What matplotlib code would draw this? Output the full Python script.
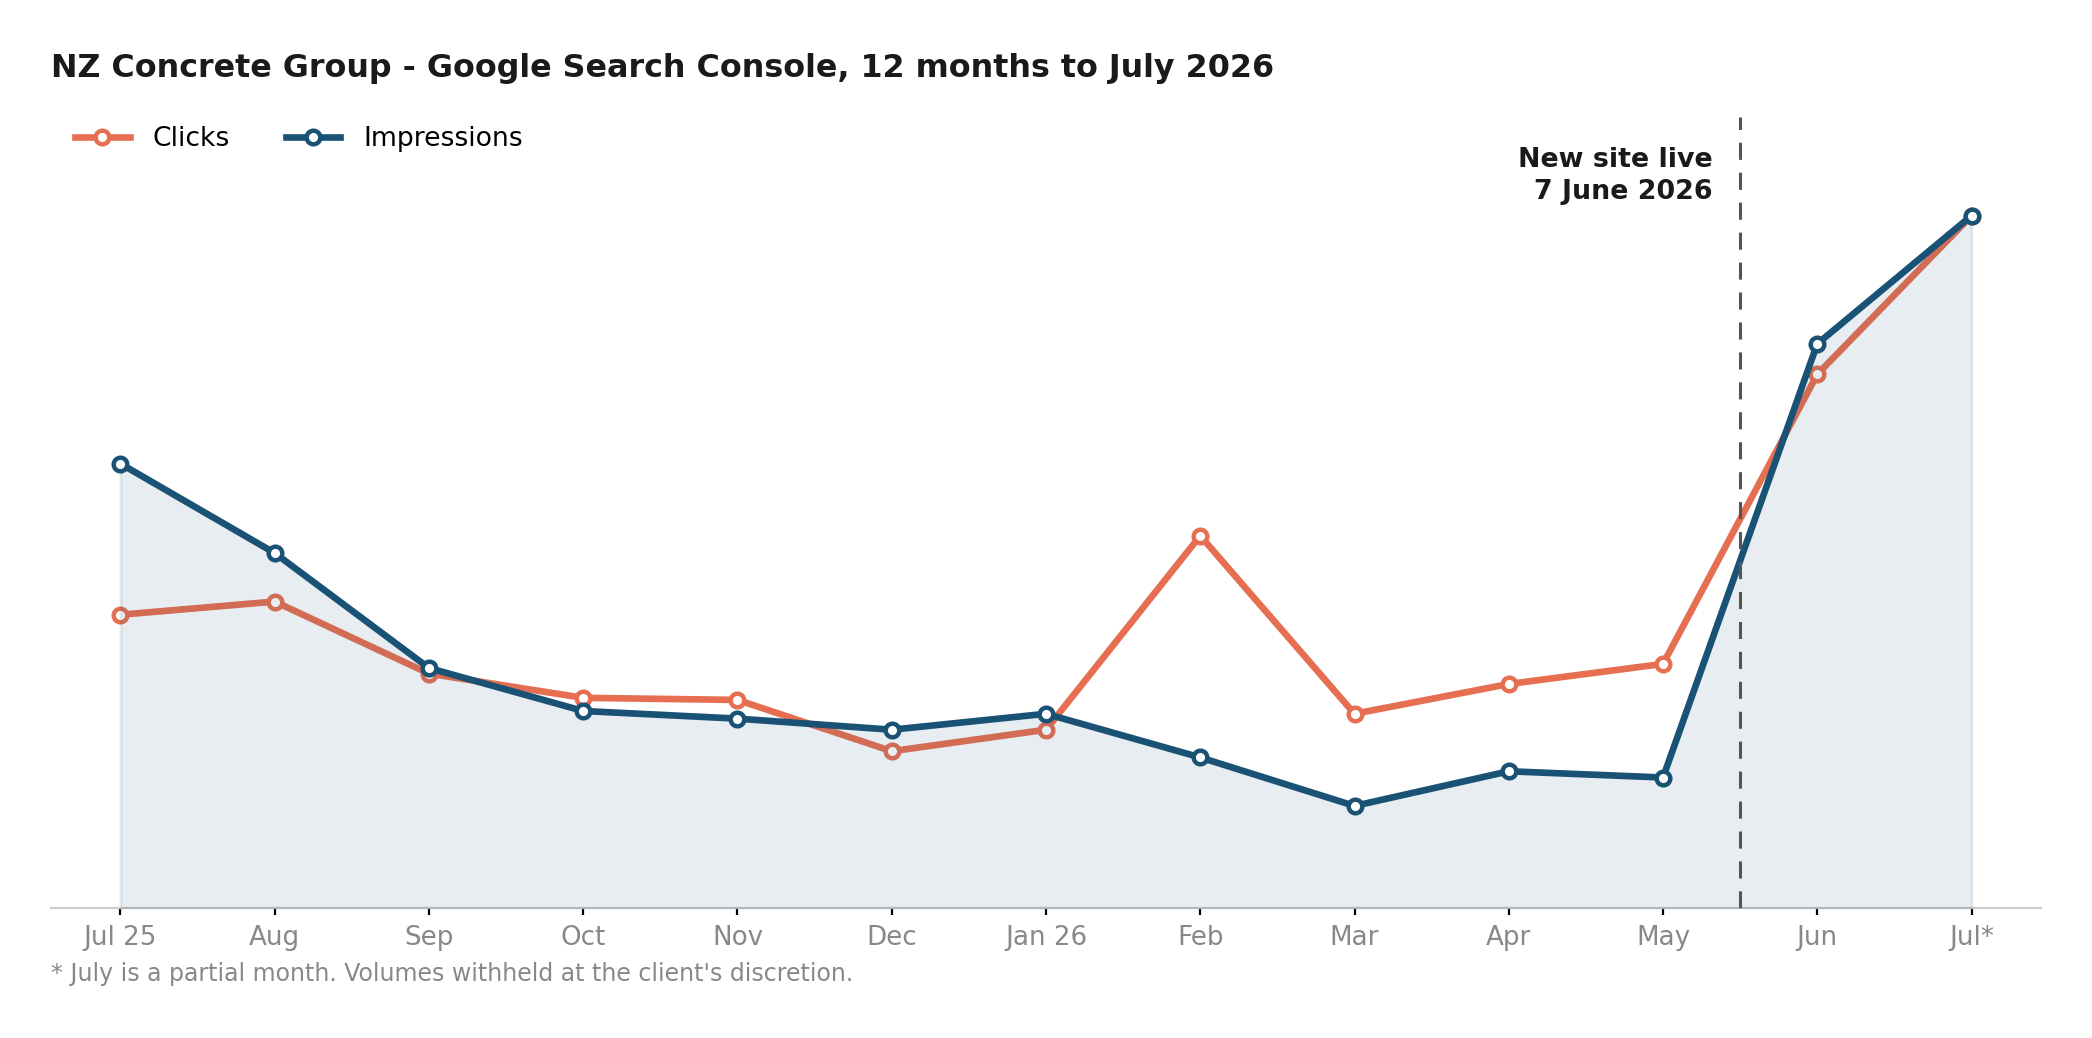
import matplotlib
matplotlib.use("Agg")
import matplotlib.pyplot as plt
import numpy as np

months = ["Jul 25", "Aug", "Sep", "Oct", "Nov", "Dec", "Jan 26", "Feb", "Mar", "Apr", "May", "Jun", "Jul*"]
clicks = [42.4, 44.3, 33.9, 30.4, 30.1, 22.7, 25.8, 53.8, 28.1, 32.4, 35.3, 77.1, 100.0]
impressions = [64.2, 51.3, 34.7, 28.5, 27.4, 25.8, 28.1, 21.8, 14.8, 19.8, 18.9, 81.5, 100.0]
launch_x = 10.5
launch_label = "New site live\n7 June 2026"
title = "NZ Concrete Group - Google Search Console, 12 months to July 2026"
footnote = "* July is a partial month. Volumes withheld at the client's discretion."

C_CLICKS = "#E76F51"
C_IMPR = "#1A5276"

plt.rcParams['font.family'] = ['DejaVu Sans']
fig = plt.figure(figsize=(10.46, 5.19), dpi=200)
ax = fig.add_axes([0.0244, 0.1248, 0.9512, 0.7622])

x = np.arange(len(months))
ax.plot(x, clicks, color=C_CLICKS, lw=2.4, marker='o', ms=4.9, mfc='white', mec=C_CLICKS, mew=1.6,
        label="Clicks", zorder=2, solid_joinstyle='round')
ax.fill_between(x, impressions, 0, color=C_IMPR, alpha=0.1, lw=1, zorder=3)
ax.plot(x, impressions, color=C_IMPR, lw=2.4, marker='o', ms=4.9, mfc='white', mec=C_IMPR, mew=1.6,
        label="Impressions", zorder=4, solid_joinstyle='round')

ax.axvline(launch_x, color="#555555", lw=1.1, ls=(0, (5.6, 4.2)), zorder=5)
ax.annotate(launch_label, xy=(launch_x, 1), xycoords=('data', 'axes fraction'),
            xytext=(-10, -10.6), textcoords='offset points', ha='right', va='top',
            fontsize=9.7, fontweight='bold', color='#1a1a1a', multialignment='right', linespacing=1.3)

ax.set_xlim(-0.45, 12.45)
ax.set_ylim(0, 114.2)
ax.set_xticks(x)
ax.set_xticklabels(months)
ax.set_yticks([])
for s in ['top', 'right', 'left']:
    ax.spines[s].set_visible(False)
ax.spines['bottom'].set_color('#cccccc')
ax.spines['bottom'].set_linewidth(0.8)
ax.tick_params(axis='x', colors='black', length=2.6, width=0.8, labelsize=9.4, labelcolor='#888888', pad=3.5)

leg = ax.legend(loc='upper left', bbox_to_anchor=(0.004, 1.009), ncol=2, frameon=False, fontsize=9.6,
                handlelength=2.05, columnspacing=2.1, handletextpad=0.85, borderaxespad=0.2)

fig.text(0.0244, 0.934, title, fontsize=11.45, fontweight='bold', color='#1a1a1a', ha='left', va='center')
fig.text(0.0244, 0.0617, footnote, fontsize=8.5, color='#888888', ha='left', va='center')

fig.savefig("out.png", dpi=200)
